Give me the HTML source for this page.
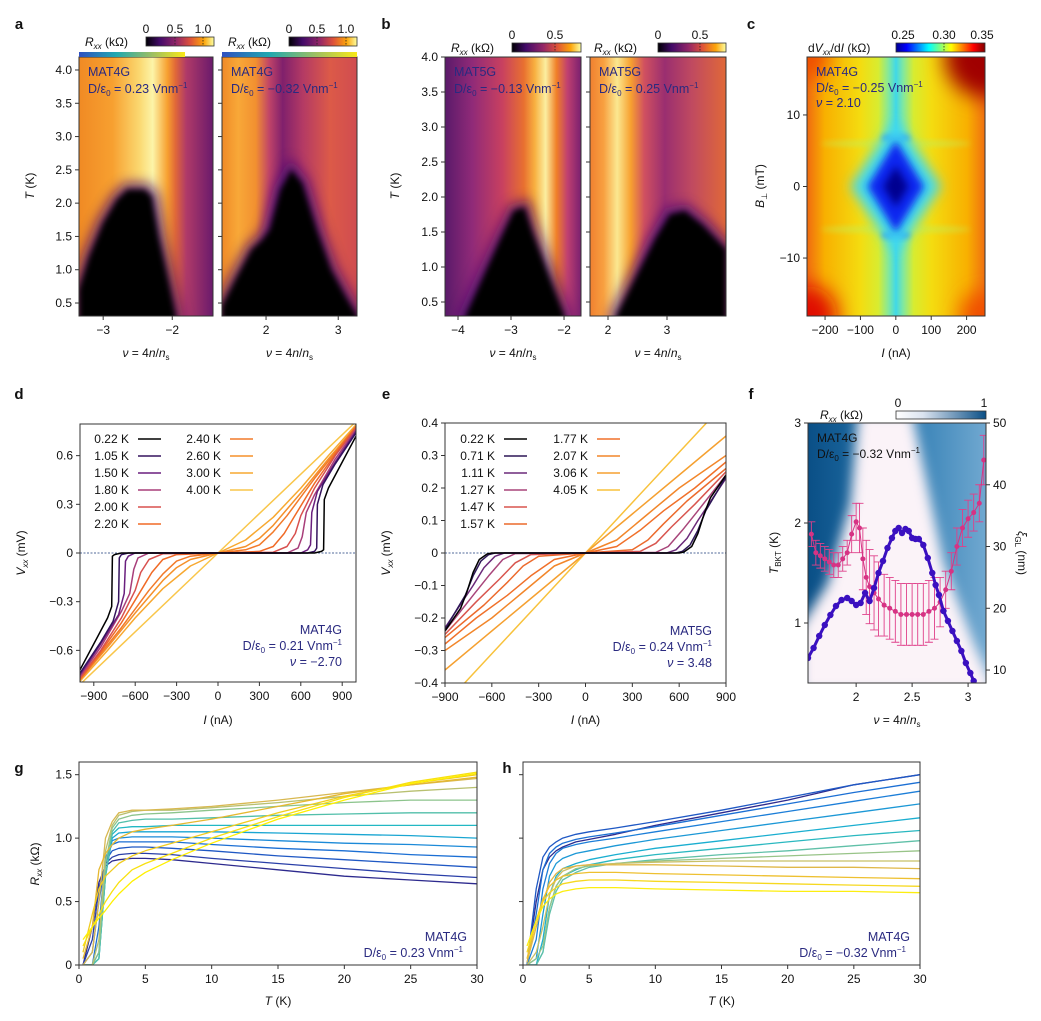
<!DOCTYPE html>
<html><head><meta charset="utf-8">
<style>
html,body{margin:0;padding:0;background:#fff;}
svg{display:block;font-family:"Liberation Sans",Arial,sans-serif;}
text{font-size:12px;fill:#111;}
.lbl{font-size:12px;}
.pl{font-size:15px;font-weight:bold;}
.ann{fill:#2a2a80;font-size:12.5px;}
</style></head>
<body>
<svg id="fig" width="1041" height="1021" viewBox="0 0 1041 1021" xmlns="http://www.w3.org/2000/svg">
<defs id="defs"></defs>
</svg>
<script>
// ---------------- DATA ----------------
const domeA1Nu=[-3.35,-3.2,-3.0,-2.8,-2.65,-2.4,-2.3,-2.2,-2.05,-1.95];
const domeA1T=[0.7,1.2,1.7,2.05,2.2,2.2,2.1,1.5,0.8,0.31];
const domeA2Nu=[1.39,1.6,1.8,1.95,2.05,2.2,2.35,2.5,2.7,2.9,3.1,3.26];
const domeA2T=[0.45,0.9,1.3,1.45,1.6,2.2,2.5,2.3,1.6,1.0,0.6,0.31];
const domeB1Nu=[-3.85,-3.5,-3.2,-2.95,-2.75,-2.6,-2.4,-2.2,-2.0];
const domeB1T=[0.31,0.9,1.4,1.8,1.85,1.5,1.1,0.7,0.31];
const domeB2Nu=[2.15,2.5,2.8,3.05,3.3,3.6,4.0];
const domeB2T=[0.31,0.9,1.4,1.75,1.8,1.6,1.25];
const diamondI=[-80,0,80,0];
const diamondB=[0,6.5,0,-6.5];
const dTemps=["0.22 K","1.05 K","1.50 K","1.80 K","2.00 K","2.20 K","2.40 K","2.60 K","3.00 K","4.00 K"];
const dI=[[0,700,750,765,770,800,850,900,1000],[0,650,700,715,720,760,850,1000],[0,600,650,670,680,720,850,1000],[0,500,580,610,640,700,850,1000],[0,400,500,560,600,700,850,1000],[0,300,400,480,550,700,850,1000],[0,200,300,400,500,700,850,1000],[0,200,300,400,600,800,1000],[0,200,400,600,800,1000],[0,1000]];
const dV=[[0,0,0.01,0.02,0.33,0.4,0.48,0.56,0.72],[0,0,0.01,0.03,0.3,0.42,0.55,0.74],[0,0,0.02,0.05,0.25,0.38,0.56,0.75],[0,0,0.03,0.1,0.25,0.36,0.58,0.76],[0,0.005,0.04,0.12,0.23,0.4,0.6,0.77],[0,0.01,0.04,0.12,0.22,0.43,0.61,0.78],[0,0.02,0.05,0.13,0.23,0.46,0.62,0.78],[0,0.04,0.09,0.17,0.37,0.58,0.78],[0,0.08,0.22,0.4,0.6,0.79],[0,0.81]];
const eTemps=["0.22 K","0.71 K","1.11 K","1.27 K","1.47 K","1.57 K","1.77 K","2.07 K","3.06 K","4.05 K"];
const eI=[[0,600,630,680,720,760,800,900],[0,580,620,670,720,770,900],[0,520,580,650,720,900],[0,450,530,620,720,900],[0,350,450,550,700,900],[0,300,400,500,650,900],[0,200,350,500,700,900],[0,200,400,600,900],[0,300,600,900],[0,300,600,900]];
const eV=[[0,0,0.003,0.02,0.06,0.12,0.17,0.24],[0,0,0.005,0.025,0.07,0.13,0.235],[0,0,0.01,0.045,0.1,0.23],[0,0.002,0.02,0.07,0.13,0.24],[0,0.005,0.03,0.08,0.15,0.25],[0,0.01,0.04,0.09,0.16,0.26],[0,0.02,0.07,0.13,0.2,0.28],[0,0.04,0.12,0.2,0.3],[0,0.12,0.24,0.36],[0,0.155,0.31,0.465]];
const fNu=[1.57,1.62,1.67,1.72,1.77,1.82,1.87,1.92,1.96,2.0,2.04,2.08,2.12,2.16,2.2,2.24,2.28,2.32,2.35,2.38,2.41,2.44,2.47,2.5,2.53,2.56,2.6,2.64,2.68,2.71,2.74,2.78,2.82,2.86,2.9,2.94,2.98,3.02,3.05];
const fT=[0.65,0.75,0.87,0.98,1.08,1.17,1.23,1.25,1.22,1.18,1.2,1.3,1.22,1.35,1.5,1.62,1.75,1.85,1.92,1.95,1.9,1.94,1.92,1.85,1.84,1.84,1.78,1.65,1.5,1.38,1.28,1.12,1.02,0.92,0.82,0.72,0.6,0.5,0.42];
const xiNu=[1.6,1.64,1.68,1.72,1.76,1.8,1.84,1.88,1.92,1.96,2.0,2.03,2.06,2.09,2.12,2.16,2.2,2.25,2.3,2.35,2.4,2.45,2.5,2.55,2.6,2.65,2.7,2.75,2.8,2.85,2.9,2.95,3.0,3.05,3.1,3.14];
const xiVal=[32,29,28.5,28,27.5,27,27,28,29,32,34,33,28,25,23.5,22.5,21.5,20.5,20,19.5,19,19,19,19,19,19.5,20,21,23,26,30,33,34.5,35.5,37,44];
const xiErr=[2,2,2,2,2,2,2,2,2,3,3,4,5,6,6,6,6,5,5,5,5,5,5,5,5,5,5,4,3,3,3,3,3,3,3,4];
const ghT=[0.3,1,1.5,2,2.5,3,4,5,7,10,15,20,25,30];
const gR=[[0,0.3,0.65,0.78,0.82,0.83,0.84,0.84,0.83,0.8,0.75,0.7,0.67,0.64],[0,0.2,0.6,0.8,0.85,0.87,0.88,0.88,0.87,0.84,0.8,0.76,0.72,0.69],[0,0.1,0.5,0.82,0.9,0.92,0.93,0.93,0.92,0.9,0.86,0.83,0.8,0.77],[0,0,0.3,0.85,0.95,0.97,0.97,0.97,0.97,0.95,0.92,0.9,0.87,0.85],[0,0,0.1,0.8,0.98,1.0,1.01,1.01,1.01,1.0,0.98,0.96,0.95,0.93],[0,0,0.05,0.7,1.0,1.04,1.05,1.05,1.05,1.05,1.04,1.03,1.02,1.0],[0,0,0.05,0.7,1.03,1.08,1.09,1.09,1.1,1.1,1.1,1.1,1.1,1.1],[0,0,0.05,0.7,1.05,1.12,1.14,1.15,1.15,1.16,1.18,1.19,1.2,1.2],[0,0,0.1,0.8,1.08,1.15,1.18,1.19,1.2,1.22,1.25,1.28,1.3,1.3],[0,0,0.2,0.9,1.1,1.18,1.21,1.22,1.22,1.24,1.28,1.33,1.37,1.4],[0,0.1,0.5,1.0,1.13,1.2,1.22,1.22,1.23,1.25,1.3,1.36,1.42,1.47],[0.05,0.3,0.75,0.88,0.95,1.0,1.05,1.07,1.1,1.15,1.25,1.35,1.42,1.48],[0.1,0.4,0.6,0.7,0.75,0.8,0.86,0.9,0.96,1.05,1.2,1.33,1.43,1.5],[0.15,0.3,0.4,0.5,0.58,0.65,0.75,0.8,0.88,1.0,1.17,1.32,1.44,1.52],[0.2,0.3,0.37,0.43,0.5,0.56,0.66,0.73,0.83,0.96,1.15,1.3,1.43,1.51]];
const hR=[[0,0.5,0.75,0.85,0.9,0.93,0.97,0.99,1.03,1.1,1.2,1.3,1.42,1.5],[0,0.6,0.85,0.93,0.97,1.0,1.03,1.05,1.08,1.13,1.22,1.32,1.42,1.5],[0,0.4,0.75,0.88,0.93,0.96,0.99,1.01,1.04,1.09,1.18,1.27,1.36,1.44],[0,0.2,0.6,0.8,0.88,0.92,0.95,0.97,1.0,1.05,1.13,1.21,1.29,1.37],[0,0.05,0.4,0.7,0.8,0.84,0.88,0.9,0.94,0.99,1.06,1.13,1.2,1.27],[0,0,0.2,0.55,0.7,0.76,0.8,0.83,0.87,0.92,0.98,1.04,1.1,1.16],[0,0,0.1,0.45,0.62,0.7,0.75,0.79,0.83,0.87,0.92,0.97,1.02,1.06],[0,0,0.1,0.4,0.58,0.67,0.73,0.77,0.8,0.83,0.87,0.9,0.94,0.98],[0,0.05,0.15,0.45,0.62,0.7,0.76,0.78,0.8,0.82,0.84,0.86,0.88,0.9],[0,0.1,0.3,0.55,0.68,0.74,0.78,0.79,0.8,0.81,0.82,0.82,0.82,0.82],[0.02,0.3,0.5,0.65,0.72,0.76,0.78,0.79,0.79,0.79,0.78,0.77,0.77,0.76],[0.05,0.35,0.52,0.62,0.67,0.7,0.72,0.73,0.73,0.72,0.71,0.7,0.69,0.68],[0.1,0.35,0.5,0.57,0.61,0.64,0.66,0.67,0.67,0.66,0.65,0.64,0.63,0.62],[0.15,0.35,0.46,0.52,0.56,0.58,0.6,0.61,0.61,0.6,0.59,0.58,0.58,0.57]];

const dColors=["#000000","#35145e","#6a1f7e","#a83e7a","#d8504e","#f06a26","#f27a2a","#f5902a","#f7a830","#f9c64a"];
const eColors=["#000000","#2d1657","#6b2a7a","#a8457a","#d8554e","#ec6a2c","#f0702a","#f2862a","#f5a030","#f8c23c"];
const gColors=["#2d2a8e","#2a3fa8","#1f58c4","#1b6fd4","#1c8ad8","#1aa6d2","#22b8c4","#52bfaa","#8cc48c","#b8c070","#d8b850","#e6b830","#f0cc20","#f8e010","#fff000"];
const hColors=["#2d2a8e","#1f58c4","#1b6fd4","#1c7ed8","#1c98d6","#1aaed0","#2ab8c0","#60c0a8","#98c488","#c8c068","#e0b848","#eec030","#f6d820","#fcee10"];

const svg=document.getElementById('fig');
const defs=document.getElementById('defs');
const NS="http://www.w3.org/2000/svg";
function mk(tag,parent){const e=document.createElementNS(NS,tag);(parent||svg).appendChild(e);return e;}
function set(e,o){for(const k in o)e.setAttribute(k,o[k]);return e;}
function lin(d0,d1,r0,r1){return v=>r0+(v-d0)*(r1-r0)/(d1-d0);}
function grad(id,stops,vertical){const g=mk('linearGradient',defs);set(g,{id:id,x1:0,y1:0,x2:vertical?0:1,y2:vertical?1:0});stops.forEach(s=>{const st=mk('stop',g);set(st,{offset:s[0],'stop-color':s[1]});});return id;}
function blur(id,sd){const f=mk('filter',defs);set(f,{id:id,x:'-50%',y:'-50%',width:'200%',height:'200%'});const b=mk('feGaussianBlur',f);set(b,{stdDeviation:sd});}
function clip(id,x,y,w,h){const c=mk('clipPath',defs);c.setAttribute('id',id);const r=mk('rect',c);set(r,{x:x,y:y,width:w,height:h});}
function txt(s,x,y,o,parent){const t=mk('text',parent);t.innerHTML=s;set(t,Object.assign({x:x,y:y},o||{}));return t;}
function frame(x0,y0,x1,y1,parent){const r=mk('rect',parent);set(r,{x:x0,y:y0,width:x1-x0,height:y1-y0,fill:'none',stroke:'#333','stroke-width':1});return r;}
function xticks(vals,labels,sx,y,parent,name){vals.forEach((v,i)=>{const l=mk('line',parent);set(l,{x1:sx(v),x2:sx(v),y1:y,y2:y+4,stroke:'#333'});


const t=txt(labels[i],sx(v),y+18,{'text-anchor':'middle'},parent);

});}
function yticks(vals,labels,sy,x,parent,name,right,col){vals.forEach((v,i)=>{const l=mk('line',parent);set(l,{x1:x,x2:right?x+4:x-4,y1:sy(v),y2:sy(v),stroke:'#333'});


if(labels[i]!==''){const t=txt(labels[i],right?x+7:x-7,sy(v)+4,{'text-anchor':right?'start':'end',fill:col||'#111'},parent);

}});}
function pts(xs,ys,sx,sy){return xs.map((x,i)=>sx(x).toFixed(1)+','+sy(ys[i]).toFixed(1)).join(' ');}

blur('b3',3);blur('b6',6);blur('b10',10);blur('b4',4);
const inferno=[[0,'#000004'],[0.2,'#420a68'],[0.45,'#932667'],[0.65,'#dd513a'],[0.85,'#fca50a'],[1,'#fcffa4']];
grad('inf',inferno);
grad('rainbow',[[0,'#3050c0'],[0.35,'#20a8b0'],[0.7,'#a0c060'],[1,'#f8e818']]);
grad('jet',[[0,'#00008f'],[0.12,'#0000ff'],[0.37,'#00ffff'],[0.62,'#ffff00'],[0.87,'#ff0000'],[1,'#800000']]);
grad('bluec',[[0,'#ffffff'],[0.3,'#dbe3ef'],[1,'#0a4f86']]);

[['a',19,29],['b',386,29],['c',751,29],['d',19,399],['e',386,399],['f',751,399],['g',19,773],['h',507,773]].forEach(p=>{const t=txt(p[0],p[1],p[2],{class:'pl','text-anchor':'middle'});

});

function colorbar(x0,x1,y0,y1,fill,ticks,tickX,label,lx,name,dashes){
 const g=mk('g');
 
 
 const r=mk('rect',g);set(r,{x:x0,y:y0,width:x1-x0,height:y1-y0,fill:'url(#'+fill+')',stroke:'#333','stroke-width':0.8});
 (dashes||[]).forEach(d=>{const l=mk('line',g);set(l,{x1:d,x2:d,y1:y0,y2:y1,stroke:'#222','stroke-dasharray':'1.5,1.5','stroke-width':0.8});});
 ticks.forEach((t,i)=>{txt(t,tickX[i],y0-4,{'text-anchor':'middle'},g);});
 txt(label,lx,y1,{},g);
}
const RXX='<tspan font-style="italic">R</tspan><tspan font-size="8" dy="3" font-style="italic">xx</tspan><tspan dy="-3"> (kΩ)</tspan>';
const DEPS=(v)=>'D/ε<tspan font-size="8" dy="3">0</tspan><tspan dy="-3"> = '+v+' Vnm</tspan><tspan font-size="8" dy="-5">−1</tspan>';
const NUX='<tspan font-style="italic">ν</tspan> = 4<tspan font-style="italic">n</tspan>/<tspan font-style="italic">n</tspan><tspan font-size="8" dy="3">s</tspan>';

function heat(cfg){
 const g=mk('g');
 
 
 const sx=lin(cfg.n0,cfg.n1,cfg.x0,cfg.x1), sy=lin(cfg.t0,cfg.t1,cfg.y1,cfg.y0);
 grad(cfg.name+'-bg',cfg.bg);
 clip(cfg.name+'-clip',cfg.x0,cfg.y0,cfg.x1-cfg.x0,cfg.y1-cfg.y0);
 const cg=mk('g',g);cg.setAttribute('clip-path','url(#'+cfg.name+'-clip)');
 const bg=mk('rect',cg);set(bg,{x:cfg.x0,y:cfg.y0,width:cfg.x1-cfg.x0,height:cfg.y1-cfg.y0,fill:'url(#'+cfg.name+'-bg)'});
 
 
 const nu=cfg.dNu, T=cfg.dT;
 const poly=pts(nu,T,sx,sy)+' '+sx(nu[nu.length-1]).toFixed(1)+','+(cfg.y1+20)+' '+sx(nu[0]).toFixed(1)+','+(cfg.y1+20);
 const halo=mk('polygon',cg);set(halo,{points:poly,fill:'#4a1070',stroke:'#4a1070','stroke-width':14,filter:'url(#b6)',opacity:0.8});
 const d=mk('polygon',cg);set(d,{points:poly,fill:'#000004',filter:'url(#b3)'});
 
 
 frame(cfg.x0,cfg.y0,cfg.x1,cfg.y1,g);
 xticks(cfg.xt,cfg.xl,sx,cfg.y1,g,cfg.name+'-x');
 yticks([0.5,1,1.5,2,2.5,3,3.5,4],cfg.yl,sy,cfg.x0,g,cfg.name+'-y');
 const xl=txt(NUX,(cfg.x0+cfg.x1)/2,357,{'text-anchor':'middle'},g);
 
 
 txt('MAT'+cfg.dev,cfg.x0+9,cfg.y0+19,{class:'ann'},g);
 txt(DEPS(cfg.D),cfg.x0+9,cfg.y0+36,{class:'ann'},g);
}
const YL=['0.5','1.0','1.5','2.0','2.5','3.0','3.5','4.0'];
heat({name:'heatmap-a1',x0:79,x1:213,y0:57,y1:316,n0:-3.35,n1:-1.41,t0:0.305,t1:4.195,dNu:domeA1Nu,dT:domeA1T,xt:[-3,-2],xl:['−3','−2'],yl:YL,dev:'4G',D:'0.23',
 bg:[[0,'#f08a24'],[0.25,'#f7a030'],[0.45,'#fbd870'],[0.55,'#fcf4a8'],[0.66,'#f7a030'],[0.72,'#e06838'],[0.8,'#b03a68'],[1,'#6a1a6c']]});
heat({name:'heatmap-a2',x0:222,x1:357,y0:57,y1:316,n0:1.39,n1:3.26,t0:0.305,t1:4.195,dNu:domeA2Nu,dT:domeA2T,xt:[2,3],xl:['2','3'],yl:['','','','','','','',''],dev:'4G',D:'−0.32',
 bg:[[0,'#f08a28'],[0.12,'#f8a838'],[0.25,'#f29030'],[0.35,'#c04468'],[0.45,'#80206c'],[0.6,'#b43a64'],[0.8,'#dc5a48'],[1,'#d04c50']]});
heat({name:'heatmap-b1',x0:445,x1:581,y0:57,y1:316,n0:-4.245,n1:-1.68,t0:0.3,t1:4.0,dNu:domeB1Nu,dT:domeB1T,xt:[-4,-3,-2],xl:['−4','−3','−2'],yl:YL,dev:'5G',D:'−0.13',
 bg:[[0,'#5a1a6a'],[0.2,'#902a78'],[0.42,'#c84060'],[0.58,'#e87030'],[0.66,'#f8b040'],[0.74,'#fbeea0'],[0.82,'#f08028'],[0.9,'#c04070'],[1,'#7a2070']]});
heat({name:'heatmap-b2',x0:590,x1:726,y0:57,y1:316,n0:1.695,n1:4.0,t0:0.3,t1:4.0,dNu:domeB2Nu,dT:domeB2T,xt:[2,3],xl:['2','3'],yl:['','','','','','','',''],dev:'5G',D:'0.25',
 bg:[[0,'#f08030'],[0.1,'#f8a040'],[0.2,'#fbe890'],[0.3,'#f7a030'],[0.4,'#d05060'],[0.55,'#9a2e70'],[0.75,'#c04a60'],[1,'#e06838']]});
(function(){const t=txt('<tspan font-style="italic">T</tspan> (K)',0,0,{transform:'translate(34,186) rotate(-90)','text-anchor':'middle'});

const t2=txt('<tspan font-style="italic">T</tspan> (K)',0,0,{transform:'translate(399,186) rotate(-90)','text-anchor':'middle'});
})();
colorbar(146,214,37,46,'inf',['0','0.5','1.0'],[146,175,203],RXX,85,'colorbar-a1',[175,203]);
colorbar(289,357,37,46,'inf',['0','0.5','1.0'],[289,317,346],RXX,228,'colorbar-a2',[317,346]);
colorbar(512,581,43,52,'inf',['0','0.5'],[512,555],RXX,451,'colorbar-b1',[555]);
colorbar(658,726,43,52,'inf',['0','0.5'],[658,700],RXX,594,'colorbar-b2',[700]);
(function(){const r=mk('rect');set(r,{x:79,y:52,width:106,height:5,fill:'url(#rainbow)'});
const r2=mk('rect');set(r2,{x:222,y:52,width:135,height:5,fill:'url(#rainbow)'});})();

// ---------- panel c ----------
(function(){
 const x0=807,x1=985,y0=57,y1=316;
 const sx=lin(-251,252,x0,x1), sy=lin(-18.1,18.1,y1,y0);
 const g=mk('g');
 clip('cclip',x0,y0,x1-x0,y1-y0);
 grad('cbg',[[0,'#f06a10'],[0.1,'#f8b000'],[0.3,'#f4dc10'],[0.4,'#d8ec30'],[0.46,'#80e8a0'],[0.5,'#40d8e8'],[0.54,'#80e8a0'],[0.6,'#d8ec30'],[0.7,'#f4dc10'],[0.9,'#f8b000'],[1,'#f07010']]);
 const cg=mk('g',g);cg.setAttribute('clip-path','url(#cclip)');
 const bg=mk('rect',cg);set(bg,{x:x0,y:y0,width:x1-x0,height:y1-y0,fill:'url(#cbg)'});
 [[x1,y0,'#a00000',40],[x0,y1,'#e01000',30],[x1,y1,'#f05000',25],[x0,y0,'#f05000',22]].forEach(c=>{const e=mk('circle',cg);set(e,{cx:c[0],cy:c[1],r:c[3],fill:c[2],filter:'url(#b10)'});});
 [6,-6].forEach(b=>{const e=mk('ellipse',cg);set(e,{cx:sx(0),cy:sy(b),rx:75,ry:3,fill:'#c8ec50',filter:'url(#b3)',opacity:0.7});
 
 const e2=mk('ellipse',cg);set(e2,{cx:sx(0),cy:sy(b*1.12),rx:14,ry:4,fill:'#1a6af0',filter:'url(#b3)'});});
 const big=mk('polygon',cg);set(big,{points:pts(diamondI.map(v=>v*1.6),diamondB.map(v=>v*1.45),sx,sy),fill:'#40d8f0',filter:'url(#b6)'});
 const dm=mk('polygon',cg);set(dm,{points:pts(diamondI,diamondB,sx,sy),fill:'#0828f0',filter:'url(#b4)'});
 
 const core=mk('polygon',cg);set(core,{points:pts(diamondI.map(v=>v*0.45),diamondB.map(v=>v*0.45),sx,sy),fill:'#000090',filter:'url(#b4)'});
 frame(x0,y0,x1,y1,g);
 xticks([-200,-100,0,100,200],['−200','−100','0','100','200'],sx,y1,g,'c-x');
 yticks([-10,0,10],['−10','0','10'],sy,x0,g,'c-y');
 const xl=txt('<tspan font-style="italic">I</tspan> (nA)',(x0+x1)/2,357,{'text-anchor':'middle'},g);
 const yl=txt('<tspan font-style="italic">B</tspan><tspan font-size="8" dy="3">⊥</tspan><tspan dy="-3"> (mT)</tspan>',0,0,{transform:'translate(764,186) rotate(-90)','text-anchor':'middle'},g);
 txt('MAT4G',x0+9,y0+19,{class:'ann'},g);txt(DEPS('−0.25'),x0+9,y0+35,{class:'ann'},g);txt('<tspan font-style="italic">ν</tspan> = 2.10',x0+9,y0+50,{class:'ann'},g);
})();
colorbar(896,985,43,52,'jet',['0.25','0.30','0.35'],[903,944,982],'d<tspan font-style="italic">V</tspan><tspan font-size="8" dy="3" font-style="italic">xx</tspan><tspan dy="-3">/d</tspan><tspan font-style="italic">I</tspan> (kΩ)',808,'colorbar-c',[944]);

// ---------- panels d,e ----------
function ivPanel(c){
 const g=mk('g');
 const sx=lin(c.i0,c.i1,c.x0,c.x1), sy=lin(c.v0,c.v1,c.y1,c.y0);
 clip(c.name+'-clip',c.x0,c.y0,c.x1-c.x0,c.y1-c.y0);
 const cg=mk('g',g);cg.setAttribute('clip-path','url(#'+c.name+'-clip)');
 const z=mk('line',cg);set(z,{x1:c.x0,x2:c.x1,y1:sy(0),y2:sy(0),stroke:'#1a3a7a','stroke-dasharray':'2,1.5','stroke-width':0.8});
 
 for(let k=c.I.length-1;k>=0;k--){
  const I=c.I[k],V=c.V[k];
  const xs=I.slice().reverse().map(v=>-v).concat(I.slice(1));
  const ys=V.slice().reverse().map(v=>-v).concat(V.slice(1));
  const p=mk('polyline',cg);set(p,{points:pts(xs,ys,sx,sy),fill:'none',stroke:c.colors[k],'stroke-width':1.5,'stroke-linejoin':'round'});
  
  
 }
 frame(c.x0,c.y0,c.x1,c.y1,g);
 xticks(c.xt,c.xt.map(v=>v<0?'−'+(-v):''+v),sx,c.y1,g,c.name+'-x');
 yticks(c.yt,c.yl,sy,c.x0,g,c.name+'-y');
 c.temps.forEach((t,k)=>{const col=k<c.split?0:1,row=k<c.split?k:k-c.split;
  const lg=mk('g',g);
  const lx=c.legX[col],ly=c.legY+row*17;
  txt(t,lx,ly+4,{'text-anchor':'end'},lg);
  const l=mk('line',lg);set(l,{x1:lx+9,x2:lx+32,y1:ly,y2:ly,stroke:c.colors[k],'stroke-width':1.5});});
 const xl=txt('<tspan font-style="italic">I</tspan> (nA)',(c.x0+c.x1)/2,724,{'text-anchor':'middle'},g);
 const yl=txt('<tspan font-style="italic">V</tspan><tspan font-size="8" dy="3" font-style="italic">xx</tspan><tspan dy="-3"> (mV)</tspan>',0,0,{transform:'translate('+(c.x0-55)+',553) rotate(-90)','text-anchor':'middle'},g);
 c.ann.forEach((a,i)=>txt(a,c.x1-14,c.y1-48+i*16,{class:'ann','text-anchor':'end'},g));
}
ivPanel({name:'iv-panel-d',x0:80,x1:356,y0:424,y1:682,i0:-1000,i1:1000,v0:-0.795,v1:0.795,I:dI,V:dV,colors:dColors,temps:dTemps,split:6,legX:[129,221],legY:439,
 xt:[-900,-600,-300,0,300,600,900],yt:[-0.6,-0.3,0,0.3,0.6],yl:['−0.6','−0.3','0','0.3','0.6'],ann:['MAT4G',DEPS('0.21'),'<tspan font-style="italic">ν</tspan> = −2.70']});
ivPanel({name:'iv-panel-e',x0:445,x1:726,y0:423,y1:683,i0:-900,i1:900,v0:-0.4,v1:0.4,I:eI,V:eV,colors:eColors,temps:eTemps,split:6,legX:[495,588],legY:439,
 xt:[-900,-600,-300,0,300,600,900],yt:[-0.4,-0.3,-0.2,-0.1,0,0.1,0.2,0.3,0.4],yl:['−0.4','−0.3','−0.2','−0.1','0','0.1','0.2','0.3','0.4'],ann:['MAT5G',DEPS('0.24'),'<tspan font-style="italic">ν</tspan> = 3.48']});

// ---------- panel f ----------
(function(){
 const x0=808,x1=986,y0=423,y1=683;
 const sx=lin(1.57,3.16,x0,x1), sy=lin(0.4,3,y1,y0), sxi=lin(7.9,50,y1,y0);
 const g=mk('g');
 clip('fclip',x0,y0,x1-x0,y1-y0);
 grad('fbg',[[0,'#0a4f86'],[0.5,'#2878b0'],[1,'#70a8d0']]);
 const cg=mk('g',g);cg.setAttribute('clip-path','url(#fclip)');
 const bg=mk('rect',cg);set(bg,{x:x0,y:y0,width:x1-x0,height:y1-y0,fill:'url(#fbg)'});
 const wNu=[2.02,2.5,2.78,3.05,3.25,1.5,1.5,1.75,1.95], wT=[3.1,3.1,1.6,0.8,0.3,0.3,0.95,1.4,2.2];
 const w=mk('polygon',cg);set(w,{points:pts(wNu,wT,sx,sy),fill:'#fbf3f8',filter:'url(#b6)'});
 
 xiNu.forEach((n,i)=>{const x=sx(n),yt=sxi(xiVal[i]+xiErr[i]),yb=sxi(xiVal[i]-xiErr[i]);
  const e=mk('path',cg);set(e,{d:`M${x},${yt}V${yb}M${x-4},${yt}H${x+4}M${x-4},${yb}H${x+4}`,stroke:'#e0408a','stroke-width':0.9,fill:'none'});
  });
 const xl=mk('polyline',cg);set(xl,{points:pts(xiNu,xiVal,sx,sxi),fill:'none',stroke:'#d63384','stroke-width':1});
 xiNu.forEach((n,i)=>{const c=mk('circle',cg);set(c,{cx:sx(n),cy:sxi(xiVal[i]),r:2.5,fill:'#d63384'});
  });
 const tl=mk('polyline',cg);set(tl,{points:pts(fNu,fT,sx,sy),fill:'none',stroke:'#3a10c0','stroke-width':3});
 
 fNu.forEach((n,i)=>{const c=mk('circle',cg);set(c,{cx:sx(n),cy:sy(fT[i]),r:3.2,fill:'#3a10c0'});
  });
 frame(x0,y0,x1,y1,g);
 xticks([2,2.5,3],['2','2.5','3'],sx,y1,g,'f-x');
 yticks([1,2,3],['1','2','3'],sy,x0,g,'f-y-left',false,'#3a10c0');
 yticks([10,20,30,40,50],['10','20','30','40','50'],sxi,x1,g,'f-y-right',true,'#d63384');
 const xt=txt(NUX,(x0+x1)/2,724,{'text-anchor':'middle'},g);
 const yl=txt('<tspan font-style="italic">T</tspan><tspan font-size="8" dy="3">BKT</tspan><tspan dy="-3"> (K)</tspan>',0,0,{transform:'translate(778,553) rotate(-90)','text-anchor':'middle',fill:'#3a10c0'},g);
 const yr=txt('<tspan font-style="italic">ξ</tspan><tspan font-size="8" dy="3">GL</tspan><tspan dy="-3"> (nm)</tspan>',0,0,{transform:'translate(1018,553) rotate(90)','text-anchor':'middle',fill:'#d63384'},g);
 txt('MAT4G',x0+9,y0+19,{fill:'#111','font-size':'12.5px'},g);txt(DEPS('−0.32'),x0+9,y0+35,{fill:'#111','font-size':'12.5px'},g);
})();
colorbar(896,986,411,419,'bluec',['0','1'],[898,984],RXX,820,'colorbar-f',[]);

// ---------- panels g,h ----------
function rtPanel(c){
 const g=mk('g');
 const sx=lin(0,30,c.x0,c.x1), sy=lin(0,1.6,c.y1,c.y0);
 clip(c.name+'-clip',c.x0,c.y0,c.x1-c.x0,c.y1-c.y0);
 const cg=mk('g',g);cg.setAttribute('clip-path','url(#'+c.name+'-clip)');
 c.R.forEach((r,k)=>{const p=mk('polyline',cg);set(p,{points:pts(ghT,r,sx,sy),fill:'none',stroke:c.colors[k],'stroke-width':1.3,'stroke-linejoin':'round'});
  
  });
 frame(c.x0,c.y0,c.x1,c.y1,g);
 xticks([0,5,10,15,20,25,30],['0','5','10','15','20','25','30'],sx,c.y1,g,c.name+'-x');
 yticks([0,0.5,1,1.5],c.yl,sy,c.x0,g,c.name+'-y');
 const xt=txt('<tspan font-style="italic">T</tspan> (K)',(c.x0+c.x1)/2,1005,{'text-anchor':'middle'},g);
 txt('MAT4G',c.x1-10,c.y1-24,{class:'ann','text-anchor':'end'},g);txt(DEPS(c.D),c.x1-14,c.y1-8,{class:'ann','text-anchor':'end'},g);
}
rtPanel({name:'rt-panel-g',x0:79,x1:477,y0:762,y1:965,R:gR,colors:gColors,yl:['0','0.5','1.0','1.5'],D:'0.23'});
rtPanel({name:'rt-panel-h',x0:523,x1:920,y0:762,y1:965,R:hR,colors:hColors,yl:['','','',''],D:'−0.32'});
(function(){const t=txt('<tspan font-style="italic">R</tspan><tspan font-size="8" dy="3" font-style="italic">xx</tspan><tspan dy="-3"> (kΩ)</tspan>',0,0,{transform:'translate(39,864) rotate(-90)','text-anchor':'middle'});
})();
</script>
</body></html>
